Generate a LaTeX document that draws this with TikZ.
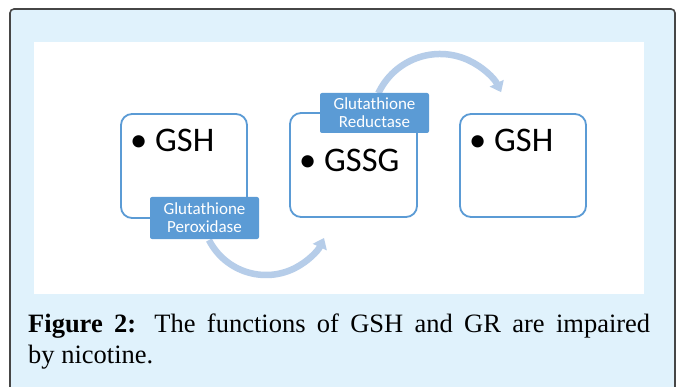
\documentclass[tikz,border=0pt]{standalone}
\usepackage{fontspec}
\setmainfont{Liberation Serif}
\newfontfamily\calib{Carlito}
\usetikzlibrary{arrows.meta}
\definecolor{framefill}{RGB}{224,242,252}
\definecolor{framedraw}{RGB}{70,70,70}
\definecolor{boxblue}{RGB}{91,155,213}
\definecolor{arrowblue}{RGB}{182,205,233}
\begin{document}
\begin{tikzpicture}[x=1pt,y=-1pt,
  stepbox/.style={draw=boxblue, line width=1.8pt, fill=white, rounded corners=11pt, inner sep=0pt},
  lbl/.style={fill=boxblue, text=white, rounded corners=2pt, align=center, font=\calib\fontsize{17}{18}\selectfont, inner sep=0pt, minimum width=109pt},
  item/.style={anchor=base west, inner sep=0pt, font=\calib\fontsize{34.5}{36}\selectfont},
  bendarrow/.style={draw=arrowblue, line width=6.5pt, -{Triangle[width=15pt,length=10pt]}},
  captxt/.style={anchor=base west, inner sep=0pt, font=\fontsize{26.5}{31}\selectfont}]
\useasboundingbox (0,0) rectangle (679,387);
\fill[white] (0,0) rectangle (679,387);
\draw[framedraw, fill=framefill, line width=1.6pt, rounded corners=4pt] (10,9) rectangle (675,400);
\fill[white] (34,42) rectangle (644,294);
% boxes
\node[stepbox, minimum width=126pt, minimum height=104pt] (b1) at (184,166) {};
\node[stepbox, minimum width=127pt, minimum height=104pt] (b2) at (353.5,165) {};
\node[stepbox, minimum width=126pt, minimum height=103pt] (b3) at (523,165.5) {};
\node[item] (t1) at (130,152) {•\ GSH};
\node[item] (t2) at (299,172) {•\ GSSG};
\node[item] (t3) at (469,152) {•\ GSH};
% arrows
\coordinate (c1) at (266,211);
\coordinate (c2) at (440,122);
\draw[bendarrow] (c1) ++(153:64) arc[start angle=153, end angle=25, radius=64];
\draw[bendarrow] (c2) ++(205:68) arc[start angle=205, end angle=334, radius=68];
% labels
\node[lbl, minimum height=42pt] (gp) at (204.5,218) {Glutathione\\Peroxidase};
\node[lbl, minimum height=40pt] (gr) at (374.5,113) {Glutathione\\Reductase};
% caption
\node[captxt] (cap1) at (28,332) {\makebox[622pt][s]{\textbf{Figure 2:} The functions of GSH and GR are impaired}};
\node[captxt] (cap2) at (28,363) {by nicotine.};
\end{tikzpicture}
\end{document}
